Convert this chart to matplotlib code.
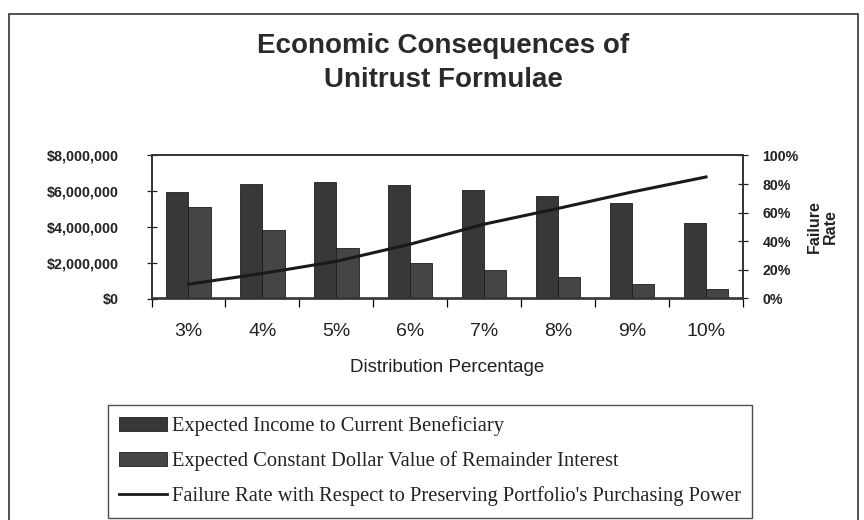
import matplotlib
matplotlib.use('Agg')
import matplotlib.pyplot as plt
import numpy as np
from matplotlib.ticker import FixedLocator, FuncFormatter
from matplotlib.patches import Rectangle, Patch
from matplotlib.lines import Line2D

categories = ['3%', '4%', '5%', '6%', '7%', '8%', '9%', '10%']
income = [5.97e6, 6.39e6, 6.50e6, 6.35e6, 6.07e6, 5.73e6, 5.33e6, 4.24e6]
remainder = [5.10e6, 3.83e6, 2.84e6, 2.00e6, 1.59e6, 1.19e6, 0.81e6, 0.55e6]
failure = [10.0, 17.5, 26.0, 38.0, 52.0, 63.0, 74.5, 85.0]
left_ticks = [0, 2e6, 4e6, 6e6, 8e6]
right_ticks = [0, 20, 40, 60, 80, 100]
series_labels = ['Expected Income to Current Beneficiary',
                 'Expected Constant Dollar Value of Remainder Interest',
                 "Failure Rate with Respect to Preserving Portfolio's Purchasing Power"]
title = 'Economic Consequences of\nUnitrust Formulae'
xlabel = 'Distribution Percentage'
right_label = 'Failure\nRate'

sans = 'Liberation Sans'
serif = 'Liberation Serif'

fig = plt.figure(figsize=(8.64, 5.2), dpi=100)
fig.patch.set_facecolor('white')

# outer frame
fig.add_artist(Rectangle((9 / 864, -0.05), (858 - 9) / 864, 1.05 - 14 / 520,
                         transform=fig.transFigure, fill=False,
                         edgecolor='#333333', lw=1.2))

fig.text(443 / 864, 1 - 63 / 520, title, ha='center', va='center',
         fontsize=20, fontweight='bold', family=sans, color='#2a2a2a',
         linespacing=1.4)

ax = fig.add_axes([151.5 / 864, 1 - 298.5 / 520, (743 - 151.5) / 864, 143 / 520])
x = np.arange(len(categories))
w = 0.3
ax.bar(x - w / 2, income, w, color='#383838', edgecolor='#1e1e1e', lw=0.6, zorder=2)
ax.bar(x + w / 2, remainder, w, color='#454545', edgecolor='#1e1e1e', lw=0.6, zorder=2)
ax.set_xlim(-0.5, len(categories) - 0.5)
ax.set_ylim(0, 8e6)

ax.yaxis.set_major_locator(FixedLocator(left_ticks))
ax.yaxis.set_major_formatter(FuncFormatter(lambda v, p: '${:,.0f}'.format(v)))
ax.tick_params(axis='y', direction='inout', length=7, width=0.9, pad=20,
               labelsize=10.3, colors='#222222')
for lab in ax.get_yticklabels():
    lab.set_family(sans)
    lab.set_fontweight('bold')

ax.set_xticks(x)
ax.set_xticklabels(categories, family=sans, fontsize=14, color='#222222')
ax.set_xticks(np.arange(len(categories) + 1) - 0.5, minor=True)
ax.tick_params(axis='x', which='major', length=0, pad=18)
ax.tick_params(axis='x', which='minor', direction='out', length=6, width=0.9)
ax.set_xlabel(xlabel, family=sans, fontsize=13.5, color='#222222', labelpad=13)

for s in ax.spines.values():
    s.set_color('#333333')
    s.set_linewidth(1.2)

ax2 = ax.twinx()
ax2.plot(x, failure, color='#1a1a1a', lw=2.2, zorder=3)
ax2.set_ylim(0, 100)
ax2.yaxis.set_major_locator(FixedLocator(right_ticks))
ax2.yaxis.set_major_formatter(FuncFormatter(lambda v, p: '{:.0f}%'.format(v)))
ax2.tick_params(axis='y', direction='inout', length=7, width=0.9, pad=10.5,
                labelsize=10.2, colors='#222222')
for lab in ax2.get_yticklabels():
    lab.set_family(sans)
    lab.set_fontweight('bold')
ax2.set_ylabel(right_label, family=sans, fontsize=11.5, fontweight='bold',
               color='#222222', labelpad=6, linespacing=1.1)
for s in ax2.spines.values():
    s.set_color('#333333')
    s.set_linewidth(1.2)

handles = [Patch(facecolor='#383838', edgecolor='#1e1e1e', lw=0.6),
           Patch(facecolor='#454545', edgecolor='#1e1e1e', lw=0.6),
           Line2D([0], [0], color='#1a1a1a', lw=2)]
leg = fig.legend(handles, series_labels, loc='upper left',
                 bbox_to_anchor=(108 / 864, 1 - 405 / 520),
                 bbox_transform=fig.transFigure,
                 prop={'family': serif, 'size': 14.8},
                 frameon=True, fancybox=False, edgecolor='#222222',
                 borderaxespad=0, borderpad=0.55, labelspacing=0.74,
                 handlelength=2.3, handleheight=0.65, handletextpad=0.25)
leg.get_frame().set_linewidth(1.0)
for t in leg.get_texts():
    t.set_color('#222222')

fig.savefig('out.png', dpi=100)
